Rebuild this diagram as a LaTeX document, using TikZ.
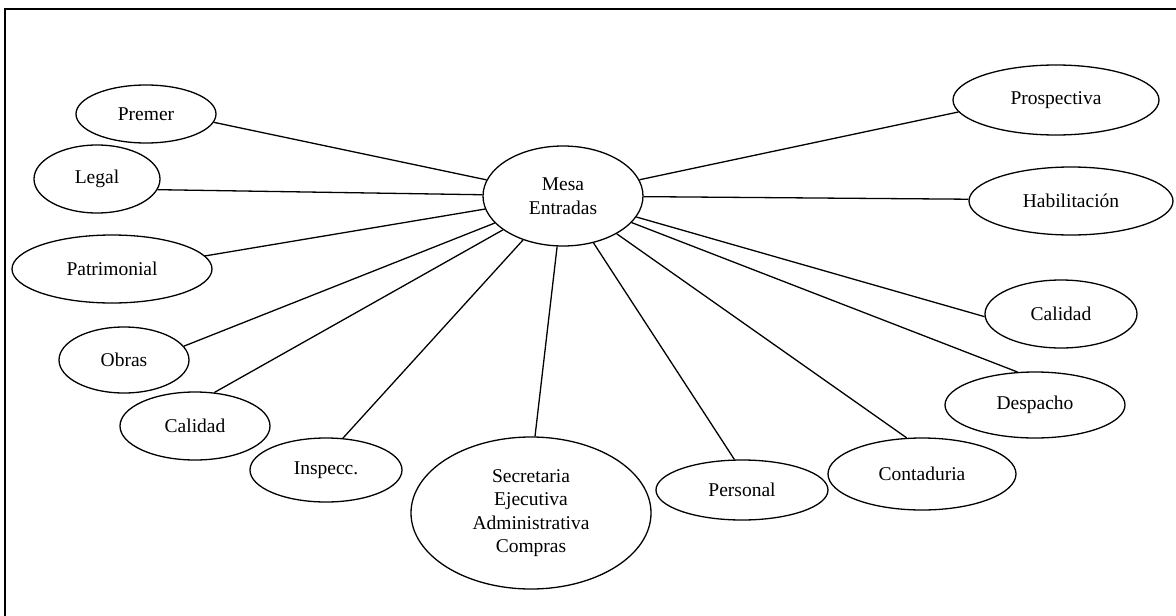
\documentclass[tikz,border=0pt]{standalone}
\usepackage{fontspec}
\setmainfont{Liberation Serif}
\usetikzlibrary{shapes.geometric}
\newcommand{\LW}{1.3pt}

\begin{document}
\begin{tikzpicture}[x=1pt, y=-1pt,
    unit/.style={ellipse, draw=black, line width=\LW, inner sep=0pt,
      align=center, font=\fontsize{19.5}{23.5}\selectfont},
    link/.style={draw=black, line width=\LW},
    frame/.style={draw=black, line width=2pt},
  ]
  \useasboundingbox (0,0) rectangle (1176,616);

  %% ================= the page frame (runs off right and bottom) =================
  \draw[frame] (5,616) -- (5,9) -- (1176,9);

  %% ================= the hub =================
  \node[unit, minimum width=160pt, minimum height=100pt] (mesa) at (563,196)
    {Mesa\\Entradas};

  %% ================= the offices round it =================
  % name / centre / size / angle where the link meets it / text
  \foreach \n/\x/\y/\w/\h/\a/\t in {
      premer/146/114/140/58/-7/Premer,
      legal/97/179/126/68/-10/Legal,
      patri/112/269/200/68/8/Patrimonial,
      obras/124/360/130/66/13/Obras,
      calL/195/426/150/68/60/Calidad,
      insp/326/470/152/64/62/Inspecc.,
      pers/742/490/172/60/104/Personal,
      cont/922/474/188/72/113/Contaduria,
      desp/1035/405/180/66/118/Despacho,
      calR/1061/314/152/68/182/Calidad,
      habil/1071/201/204/68/179/Habilitación,
      prosp/1056/100/206/70/187/Prospectiva} {
    \node[unit, minimum width=\w pt, minimum height=\h pt] (\n) at (\x,\y) {\t};
    \draw[link] (mesa) -- (\n.\a);
  }

  %% ---- the big one below the hub ----
  \node[unit, minimum width=240pt, minimum height=152pt] (secre) at (531,513)
    {Secretaria\\Ejecutiva\\Administrativa\\Compras};
  \draw[link] (mesa) -- (secre.87);

\end{tikzpicture}
\end{document}
